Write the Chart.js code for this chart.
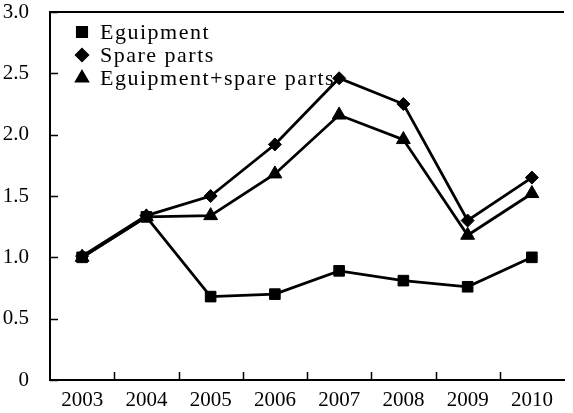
<!DOCTYPE html>
<html>
<head>
<meta charset="utf-8">
<script src="https://cdn.jsdelivr.net/npm/chart.js@4.4.1/dist/chart.umd.min.js"></script>
<style>
  html, body { margin: 0; padding: 0; background: #fff; }
  .wrap { width: 573px; height: 413px; }
</style>
</head>
<body>
<div class="wrap"><canvas class="graph" width="573" height="413"></canvas></div>
<script>
const years = ['2003', '2004', '2005', '2006', '2007', '2008', '2009', '2010'];
const equipment = [1.00, 1.33, 0.68, 0.70, 0.89, 0.81, 0.76, 1.00];
const spareParts = [1.01, 1.34, 1.50, 1.92, 2.46, 2.25, 1.30, 1.65];
const equipmentSpare = [1.00, 1.33, 1.34, 1.68, 2.16, 1.96, 1.18, 1.52];
const yTickLabels = ['0', '0.5', '1.0', '1.5', '2.0', '2.5', '3.0'];

const FONT = '"Liberation Serif", "Times New Roman", serif';

// frame top line, inward tick marks, legend inside plot
const frameAndLegend = {
    id: 'frameAndLegend',
    afterDraw(chart) {
        const c = chart.ctx;
        const area = chart.chartArea;
        const xs = chart.scales.x;
        const ys = chart.scales.y;
        c.save();
        c.strokeStyle = '#000';
        c.lineWidth = 2;
        c.beginPath();
        c.moveTo(area.left, area.top);
        c.lineTo(area.right, area.top);
        c.stroke();

        // tick marks pointing into the plot
        c.lineWidth = 1.5;
        c.beginPath();
        ys.ticks.forEach((t, i) => {
            const y = Math.round(ys.getPixelForTick(i)) + 0.5;
            c.moveTo(area.left, y);
            c.lineTo(area.left + 8, y);
        });
        for (let i = 1; i < years.length; i++) {
            const x = Math.round((xs.getPixelForTick(i - 1) + xs.getPixelForTick(i)) / 2) + 0.5;
            c.moveTo(x, area.bottom);
            c.lineTo(x, area.bottom - 8);
        }
        c.stroke();

        c.font = '22px ' + FONT;
        c.letterSpacing = '1.5px';
        c.textBaseline = 'middle';
        c.fillStyle = '#000';
        chart.data.datasets.forEach((ds, i) => {
            const y = area.top + 20 + i * 23;
            const x = area.left + 32;
            Chart.helpers.drawPoint(c, {
                pointStyle: ds.pointStyle,
                radius: ds.legendRadius,
                borderWidth: 1
            }, x, y);
            c.fillStyle = '#000';
            c.fillText(ds.label, area.left + 50, y + 1);
        });
        c.restore();
    }
};

const ctx = document.querySelector('.graph');
const myChart = new Chart(ctx, {
    type: 'line',
    data: {
        labels: years,
        datasets: [{
            label: 'Eguipment',
            data: equipment,
            pointStyle: 'rect',
            pointRadius: 7.5,
            legendRadius: 7.5
        }, {
            label: 'Spare parts',
            data: spareParts,
            pointStyle: 'rectRot',
            pointRadius: 6.5,
            legendRadius: 6.5
        }, {
            label: 'Eguipment+spare parts',
            data: equipmentSpare,
            pointStyle: 'triangle',
            pointRadius: 8,
            legendRadius: 7.5
        }].map(ds => Object.assign(ds, {
            borderColor: '#000',
            backgroundColor: '#000',
            pointBackgroundColor: '#000',
            pointBorderColor: '#000',
            pointBorderWidth: 1,
            borderWidth: 2.8,
            tension: 0
        }))
    },
    options: {
        responsive: false,
        animation: false,
        layout: { padding: { top: 12, right: 0, left: 0, bottom: 0 } },
        scales: {
            x: {
                offset: true,
                grid: { display: false },
                border: { color: '#000', width: 2 },
                ticks: {
                    color: '#000',
                    padding: 0,
                    maxRotation: 0,
                    autoSkip: false,
                    font: { family: FONT, size: 21 }
                },
                afterFit: s => { s.height = 33; s.paddingLeft = 0; s.paddingRight = 0; }
            },
            y: {
                min: 0,
                max: 3,
                grid: { display: false },
                border: { color: '#000', width: 2 },
                ticks: {
                    stepSize: 0.5,
                    color: '#000',
                    padding: 13,
                    font: { family: FONT, size: 21 },
                    callback: (v, i) => yTickLabels[i]
                },
                afterFit: s => { s.width = 50; s.paddingTop = 0; s.paddingBottom = 0; }
            }
        },
        plugins: {
            legend: { display: false },
            tooltip: { enabled: false }
        }
    },
    plugins: [frameAndLegend]
});
</script>
</body>
</html>
